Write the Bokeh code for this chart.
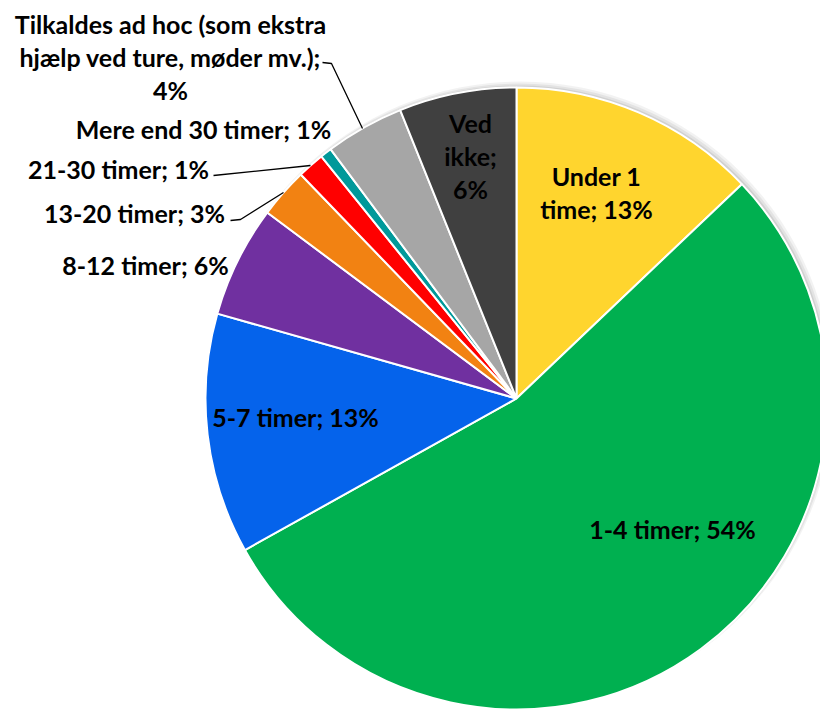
import numpy as np
from bokeh.plotting import figure
from bokeh.models import Range1d, ColumnDataSource
from bokeh.core.properties import value
from bokeh.embed import file_html
from bokeh.resources import INLINE

# ---- data ----
categories = ["Under 1 time", "1-4 timer", "5-7 timer", "8-12 timer", "13-20 timer",
              "21-30 timer", "Mere end 30 timer",
              "Tilkaldes ad hoc (som ekstra hjælp ved ture, møder mv.)", "Ved ikke"]
shares = [12.9, 54.0, 12.5, 5.8, 2.6, 1.4, 0.6, 4.1, 6.1]
shown_pct = ["13%", "54%", "13%", "6%", "3%", "1%", "1%", "4%", "6%"]
label_texts = ["Under 1\ntime; 13%", "1-4 timer; 54%", "5-7 timer; 13%", "8-12 timer; 6%",
               "13-20 timer; 3%", "21-30 timer; 1%", "Mere end 30 timer; 1%",
               "Tilkaldes ad hoc (som ekstra\nhjælp ved ture, møder mv.);\n4%", "Ved\nikke;\n6%"]
colors = ["#FFD52E", "#00B050", "#0563EB", "#7030A0", "#F28212",
          "#FF0000", "#00999A", "#A6A6A6", "#404040"]

# ---- layout (screen px) ----
W, H = 820, 710
def X(sx): return sx
def Y(sy): return H - sy

CX, CY, R = 516, 398, 311
label_pos = [(596, 192), (672, 528), (295, 416), (145, 264), (134, 212),
             (118, 168), (203, 128), (170, 56), (470, 155)]
leaders = {
    4: [(230, 220), (240, 219), (283, 192)],
    5: [(213, 175), (310, 165)],
    7: [(322, 62), (331, 63), (362, 128)],
}

p = figure(width=W, height=H, output_backend="svg", toolbar_location=None,
           x_range=Range1d(0, W), y_range=Range1d(0, H), min_border=0,
           background_fill_color="white", border_fill_color="white")
p.axis.visible = False
p.grid.visible = False
p.outline_line_color = None

# soft shadow
for off, rr, a in [(4, 313, 0.05), (3, 312, 0.06), (2, 311, 0.08)]:
    p.circle(x=[X(CX + off)], y=[Y(CY - off)], radius=rr, radius_units="screen",
             fill_color="black", fill_alpha=a, line_color=None)

frac = np.array(shares) / np.sum(shares)
cum = np.concatenate([[0], np.cumsum(frac)])
start = np.pi / 2 - 2 * np.pi * cum[:-1]
end = np.pi / 2 - 2 * np.pi * cum[1:]
src = ColumnDataSource(dict(x=[X(CX)] * len(shares), y=[Y(CY)] * len(shares),
                            start=start, end=end, color=colors, cat=categories))
p.wedge(x="x", y="y", radius=R, radius_units="screen", start_angle="start",
        end_angle="end", direction="clock", fill_color="color",
        line_color="white", line_width=2, source=src)

for i, pts in leaders.items():
    p.line([X(a) for a, b in pts], [Y(b) for a, b in pts], line_color="black", line_width=1.3)

lsrc = ColumnDataSource(dict(x=[X(a) for a, b in label_pos], y=[Y(b) for a, b in label_pos],
                             t=label_texts))
p.text(x="x", y="y", text="t", source=lsrc, text_align="center", text_baseline="middle",
       text_font=value("Lato"), text_font_style="bold", text_font_size="25px",
       text_color="black", text_line_height=1.1)

open("out.html", "w").write(file_html(p, INLINE))
